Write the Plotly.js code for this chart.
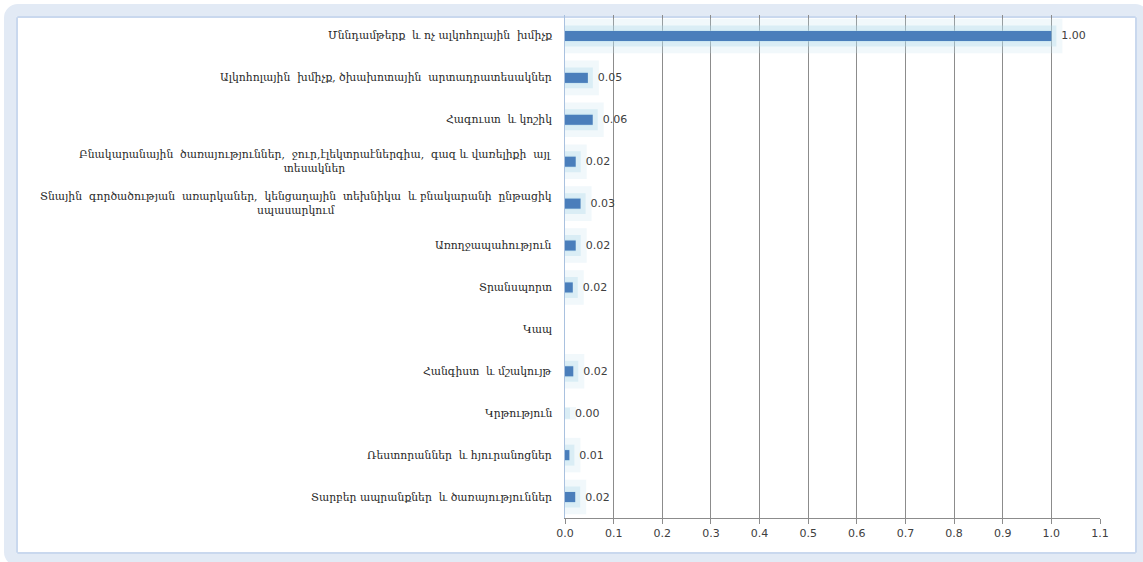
<!DOCTYPE html>
<html>
<head>
<meta charset="utf-8">
<script src="https://cdn.plot.ly/plotly-3.0.1.min.js"></script>
<style>
  html, body { margin: 0; padding: 0; background: #ffffff; overflow: hidden; }
  #frame {
    position: absolute; left: 4px; top: 4px; width: 1145px; height: 562px;
    box-sizing: border-box; border: 12px solid #e2eaf5; border-radius: 14px;
    box-shadow: inset 0 0 0 2px #c9d8ee; background: #ffffff;
  }
  #chart { position: absolute; left: 0; top: 0; width: 1143px; height: 562px; }
</style>
</head>
<body>
<div id="frame"></div>
<div id="chart"></div>
<script>
// Categories (top to bottom)
const categories = [
  "Մննդամթերք  և ոչ ալկոհոլային  խմիչք",
  "Ալկոհոլային  խմիչք, ծխախոտային  արտադրատեսակներ",
  "Հագուստ  և կոշիկ",
  "Բնակարանային  ծառայություններ,  ջուր,էլեկտրաէներգիա,  գազ և վառելիքի  այլ<br>տեսակներ",
  "Տնային  գործածության  առարկաներ,  կենցաղային  տեխնիկա  և բնակարանի  ընթացիկ<br>սպասարկում",
  "Առողջապահություն",
  "Տրանսպորտ",
  "Կապ",
  "Հանգիստ  և մշակույթ",
  "Կրթություն",
  "Ռեստորաններ  և հյուրանոցներ",
  "Տարբեր ապրանքներ  և ծառայություններ"
];
// Values
const values = [1.00, 0.047, 0.057, 0.022, 0.032, 0.022, 0.016, null, 0.017, 0.0, 0.009, 0.021];
// Axis ticks
const tickVals = [0, 0.1, 0.2, 0.3, 0.4, 0.5, 0.6, 0.7, 0.8, 0.9, 1.0, 1.1];
const tickText = ["0.0","0.1","0.2","0.3","0.4","0.5","0.6","0.7","0.8","0.9","1.0","1.1"];

const ids = categories.map((c, i) => i);

const glowOuter = {
  type: 'bar', orientation: 'h', x: values, y: ids,
  width: 0.30,
  marker: { color: 'rgba(190,225,238,0.22)', line: { color: 'rgba(190,225,238,0.22)', width: 22 } },
  hoverinfo: 'skip', showlegend: false
};
const glowInner = {
  type: 'bar', orientation: 'h', x: values, y: ids,
  width: 0.26,
  marker: { color: 'rgba(175,218,234,0.35)', line: { color: 'rgba(175,218,234,0.35)', width: 10 } },
  hoverinfo: 'skip', showlegend: false
};
const bars = {
  type: 'bar', orientation: 'h', x: values, y: ids,
  width: 0.24,
  marker: { color: '#4a7ebb' },
  texttemplate: '\u00a0\u00a0%{x:.2f}',
  textposition: 'outside',
  constraintext: 'none',
  cliponaxis: false,
  textfont: { family: 'DejaVu Sans, Verdana, sans-serif', size: 11, color: '#404040' },
  showlegend: false
};

const annotations = categories.map((c, i) => ({
  xref: 'paper', yref: 'y', x: 0, y: i, xanchor: 'right', yanchor: 'middle',
  xshift: -11, align: 'center', showarrow: false, text: c,
  font: { family: 'DejaVu Serif, serif', size: 10.8, color: '#262626' }
}));

const layout = {
  width: 1143, height: 562,
  margin: { l: 565, r: 43, t: 15, b: 44 },
  paper_bgcolor: 'rgba(0,0,0,0)', plot_bgcolor: 'rgba(0,0,0,0)',
  barmode: 'overlay',
  showlegend: false,
  xaxis: {
    range: [0, 1.1], tickvals: tickVals, ticktext: tickText,
    showgrid: true, gridcolor: '#8c8c8c', gridwidth: 1, zeroline: false,
    showline: true, linecolor: '#8c8c8c', linewidth: 1,
    ticks: 'outside', ticklen: 5, tickcolor: '#8c8c8c',
    tickfont: { family: 'DejaVu Sans, Verdana, sans-serif', size: 11, color: '#404040' },
    fixedrange: true
  },
  yaxis: {
    range: [11.5, -0.5], showticklabels: false, showgrid: false, zeroline: false,
    showline: true, linecolor: '#a9c1df', linewidth: 1, ticks: '', fixedrange: true
  },
  annotations: annotations
};

Plotly.newPlot('chart', [glowOuter, glowInner, bars], layout, { displayModeBar: false, staticPlot: true });
</script>
</body>
</html>
